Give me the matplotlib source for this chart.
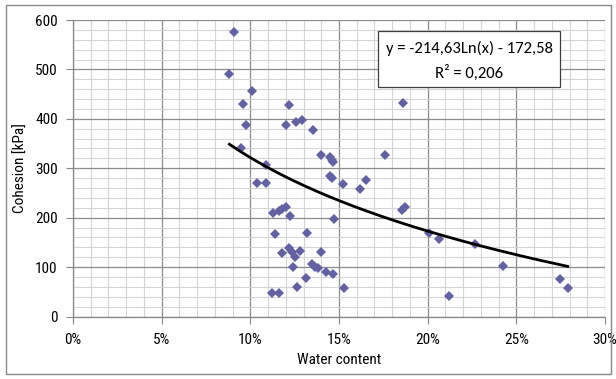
import numpy as np
import matplotlib
matplotlib.use("Agg")
import matplotlib.pyplot as plt
from matplotlib.patches import Rectangle
from matplotlib.ticker import MultipleLocator, FuncFormatter

# ==========================
# DATA
# ==========================

water_content = [
    8.82, 9.08, 10.1, 9.6, 9.77, 9.46, 10.36, 10.9, 10.9, 12.2,
    12.0, 12.6, 12.9, 13.55, 14.0, 14.5, 14.6, 14.65, 14.5, 14.6,
    15.25, 16.5, 16.2, 17.6, 18.6, 18.53, 18.74, 11.3, 11.6, 11.77,
    12.0, 12.24, 14.7, 11.4, 13.2, 11.8, 12.2, 12.33, 12.5, 12.8,
    13.97, 12.42, 13.5, 13.65, 13.8, 14.27, 14.68, 13.14, 12.65, 15.3,
    11.24, 11.63, 20.1, 20.64, 22.65, 24.27, 21.2, 27.45, 27.9,
]

cohesion = [
    491, 575, 457, 430, 388, 341, 270, 270, 307, 428,
    388, 393, 398, 377, 327, 322, 317, 312, 284, 280,
    268, 277, 258, 327, 432, 216, 221, 209, 214, 218,
    222, 203, 197, 166, 168, 129, 139, 131, 121, 133,
    131, 101, 106, 101, 99, 91, 86, 78, 59, 57,
    47, 47, 168, 157, 147, 102, 42, 76, 58,
]

# trendline from the label: y = -214,63 Ln(x) - 172,58
trend_a = -214.63
trend_b = -172.58
equation_text = "y = -214,63Ln(x) - 172,58"
r2_text = "R² = 0,206"

# ==========================
# FIGURE
# ==========================

W, H = 616, 379
fig = plt.figure(figsize=(W / 100, H / 100), dpi=100)
ax = fig.add_axes([73 / W, 1 - 316.5 / H, (605 - 73) / W, (316.5 - 20) / H])

# narrow font for the axis texts
label_font = ["Roboto Condensed", "DejaVu Sans"]
label_size = 11

ax.set_xlim(0, 30)
ax.set_ylim(0, 600)

ax.xaxis.set_major_locator(MultipleLocator(5))
ax.xaxis.set_minor_locator(MultipleLocator(1))
ax.yaxis.set_major_locator(MultipleLocator(100))
ax.yaxis.set_minor_locator(MultipleLocator(20))
ax.xaxis.set_major_formatter(FuncFormatter(lambda v, p: f"{v:.0f}%"))

ax.grid(True, which="major", color="#8c8c8c", linewidth=0.9)
ax.grid(True, which="minor", color="#d4d4d4", linewidth=0.8)
ax.set_axisbelow(True)

for side in ["top", "right"]:
    ax.spines[side].set_visible(False)
for side in ["left", "bottom"]:
    ax.spines[side].set_color("#868686")
    ax.spines[side].set_linewidth(0.9)

ax.tick_params(which="major", length=5, color="#868686",
               direction="out", labelsize=label_size)
ax.tick_params(which="minor", length=0)
ax.tick_params(axis="x", pad=7)
ax.tick_params(axis="y", pad=6)
for lab in ax.get_xticklabels() + ax.get_yticklabels():
    lab.set_fontfamily(label_font)

ax.set_xlabel("Water content", family=label_font, fontsize=label_size,
              labelpad=4)
ax.set_ylabel("Cohesion [kPa]", family=label_font, fontsize=label_size,
              labelpad=5)

# scatter points
ax.plot(water_content, cohesion, linestyle="none", marker="D",
        markersize=5.2, color="#6461a0", markeredgewidth=0, zorder=3)

# logarithmic trendline over the data range
xs = np.linspace(min(water_content), max(water_content), 200)
ys = trend_a * np.log(xs / 100) + trend_b
ax.plot(xs, ys, color="black", linewidth=2, zorder=4)

# equation box
bx0, by0, bx1, by1 = 378, 31, 560, 87
fig.patches.append(Rectangle((bx0 / W, 1 - by1 / H), (bx1 - bx0) / W,
                             (by1 - by0) / H, transform=fig.transFigure,
                             facecolor="white", edgecolor="#404040",
                             linewidth=0.9, zorder=5))
box_font = ["Carlito", "DejaVu Sans"]
fig.text((bx0 + bx1) / 2 / W, 1 - 48 / H, equation_text, ha="center",
         va="center", fontsize=12, family=box_font, zorder=6)
fig.text((bx0 + bx1) / 2 / W, 1 - 73 / H, r2_text, ha="center",
         va="center", fontsize=12, family=box_font, zorder=6)

# chart border
fig.patches.append(Rectangle((6 / W, 1 - 374 / H), (611 - 6) / W, (374 - 5) / H,
                             transform=fig.transFigure, fill=False,
                             edgecolor="#868686", linewidth=1.0))

fig.savefig("out.png", dpi=100)
